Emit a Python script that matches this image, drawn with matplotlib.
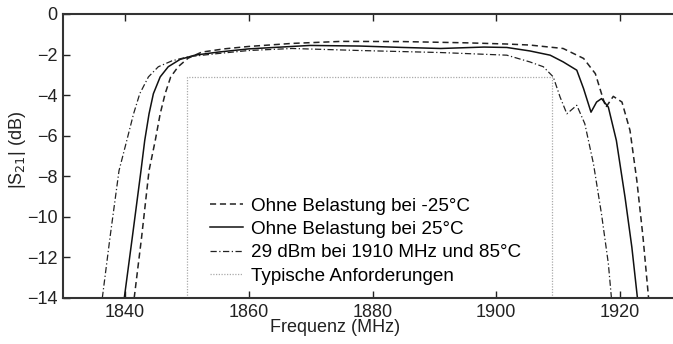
import matplotlib.pyplot as plt

plt.rcParams['font.family'] = ['Liberation Sans', 'DejaVu Sans']

# Ohne Belastung bei -25°C (gestrichelt)
f_kalt = [1841.5, 1842.7, 1843.9, 1844.9, 1845.7, 1846.5, 1847.4, 1848.6, 1850.2, 1852.4, 1856,
          1860, 1867, 1875, 1885, 1895, 1901.7, 1905.4, 1910.8, 1914.1, 1916.0, 1917.0, 1917.7,
          1918.9, 1920.3, 1921.6, 1922.7, 1923.7, 1924.6]
s_kalt = [-14.0, -11.0, -7.72, -6.24, -4.92, -3.93, -3.1, -2.6, -2.18, -1.88, -1.72,
          -1.6, -1.45, -1.35, -1.36, -1.42, -1.48, -1.53, -1.7, -2.19, -2.94, -3.93, -4.6,
          -4.06, -4.34, -5.74, -8.2, -11.0, -14.0]

# Ohne Belastung bei 25°C (durchgezogen)
f_raum = [1839.9, 1841.2, 1842.6, 1843.2, 1843.9, 1844.6, 1845.7, 1847.0, 1848.9, 1851.3, 1855,
          1860, 1869.9, 1878, 1885, 1891, 1898, 1901.7, 1905.4, 1908.7, 1910.8, 1913.0, 1914.1,
          1915.3, 1916.2, 1917.0, 1918.1, 1919.4, 1920.8, 1921.9, 1922.8]
s_raum = [-14.0, -11.0, -7.72, -6.24, -4.92, -3.93, -3.1, -2.6, -2.24, -2.03, -1.88,
          -1.72, -1.55, -1.58, -1.65, -1.7, -1.63, -1.65, -1.82, -2.03, -2.36, -2.77, -3.68,
          -4.84, -4.34, -4.17, -4.59, -6.24, -9.04, -11.5, -14.0]

# 29 dBm bei 1910 MHz und 85°C (strichpunktiert)
f_heiss = [1836.35, 1837.6, 1839.05, 1840.3, 1841.4, 1842.4, 1843.8, 1845.4, 1847.6, 1850.2,
           1855, 1860, 1867, 1878, 1891, 1901.7, 1905.4, 1907.6, 1909.2, 1910.3, 1911.4,
           1913.0, 1914.3, 1915.7, 1917.0, 1918.1, 1918.6]
s_heiss = [-14.0, -11.0, -7.72, -6.24, -4.92, -3.93, -3.1, -2.6, -2.31, -2.11,
           -1.95, -1.8, -1.7, -1.8, -1.9, -2.03, -2.36, -2.6, -3.1, -4.09, -4.92,
           -4.5, -5.41, -7.39, -9.87, -12.3, -14.0]

# Typische Anforderungen (Toleranzschema)
f_anf = [1850, 1850, 1909, 1909]
s_anf = [-14, -3.1, -3.1, -14]

fig = plt.figure(figsize=(6.73, 3.44), dpi=100)
ax = fig.add_axes([63 / 673, 46 / 344, 619 / 673, 284 / 344])

ax.plot(f_kalt, s_kalt, color='#222222', lw=1.1, ls=(0, (4, 2.5)), label='Ohne Belastung bei -25°C')
ax.plot(f_raum, s_raum, color='#111111', lw=1.1, ls='-', label='Ohne Belastung bei 25°C')
ax.plot(f_heiss, s_heiss, color='#222222', lw=0.9, ls=(0, (5, 2, 1, 2)), label='29 dBm bei 1910 MHz und 85°C')
ax.plot(f_anf, s_anf, color='#aaaaaa', lw=0.9, ls=(0, (1, 1.2)), label='Typische Anforderungen')

ax.set_xlim(1830, 1930)
ax.set_ylim(-14, 0)
ax.set_xticks([1840, 1860, 1880, 1900, 1920])
ax.set_yticks(range(-14, 1, 2))
ax.set_yticklabels(['\u2212' + str(-v) if v < 0 else str(v) for v in range(-14, 1, 2)])

ax.tick_params(direction='in', length=5, width=1, top=True, right=True,
               labelsize=13, colors='#222222', pad=4)
for sp in ax.spines.values():
    sp.set_color('#333333')
    sp.set_linewidth(1.5)

ax.set_xlabel('Frequenz (MHz)', fontsize=13, color='#222222')
ax.xaxis.set_label_coords(0.44, -0.105)
ax.xaxis.label.set_va('center')
ax.set_ylabel('|S$_{21}$| (dB)', fontsize=13, color='#222222')
ax.yaxis.set_label_coords(-0.074, 0.52)
ax.yaxis.label.set_va('center')

ax.legend(loc='upper left', bbox_to_anchor=(0.222, 0.387), frameon=False, fontsize=13.6,
          handlelength=1.75, handletextpad=0.45, labelspacing=0.32, borderpad=0)

fig.savefig('out.png', dpi=100)
